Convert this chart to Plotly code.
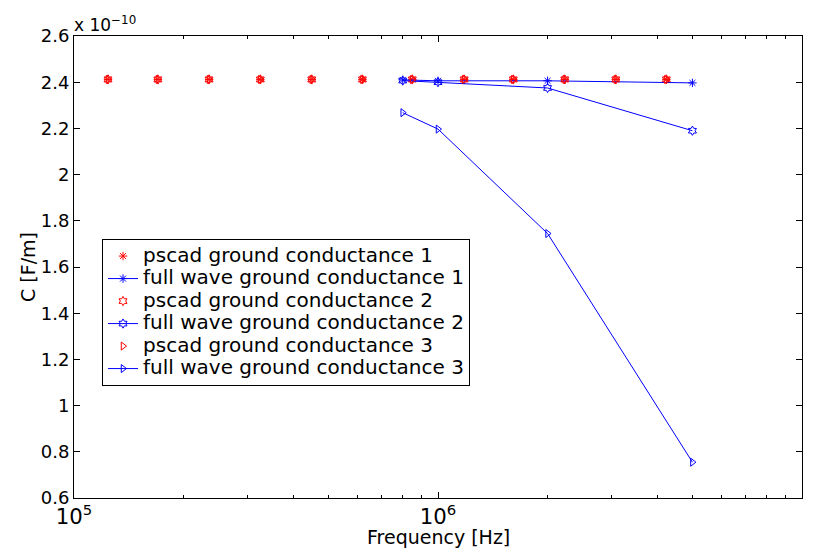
import plotly.graph_objects as go

# Frequencies [Hz]
pscad_freq = [1.24e5, 1.70e5, 2.35e5, 3.25e5, 4.50e5, 6.20e5,
              8.50e5, 1.18e6, 1.61e6, 2.23e6, 3.08e6, 4.24e6]
fw_freq = [8e5, 1e6, 2e6, 5e6]

# Capacitance values in units of 1e-10 F/m
pscad_c1 = [2.412] * 12
pscad_c2 = [2.412] * 12
pscad_c3 = [2.412] * 12
fw_c1 = [2.410, 2.406, 2.406, 2.397]
fw_c2 = [2.407, 2.400, 2.375, 2.190]
fw_c3 = [2.268, 2.197, 1.745, 0.755]

y_ticks = [0.6, 0.8, 1.0, 1.2, 1.4, 1.6, 1.8, 2.0, 2.2, 2.4, 2.6]
y_tick_labels = ["0.6", "0.8", "1", "1.2", "1.4", "1.6", "1.8", "2", "2.2", "2.4", "2.6"]

RED = "#ff0000"
BLUE = "#0000ff"
MS = 7
LEG_TXT = 20

fig = go.Figure()
series = [
    ("pscad ground conductance 1", pscad_freq, pscad_c1, RED, "asterisk-open", "markers"),
    ("full wave ground conductance 1", fw_freq, fw_c1, BLUE, "asterisk-open", "lines+markers"),
    ("pscad ground conductance 2", pscad_freq, pscad_c2, RED, "hexagram-open", "markers"),
    ("full wave ground conductance 2", fw_freq, fw_c2, BLUE, "hexagram-open", "lines+markers"),
    ("pscad ground conductance 3", pscad_freq, pscad_c3, RED, "triangle-right-open", "markers"),
    ("full wave ground conductance 3", fw_freq, fw_c3, BLUE, "triangle-right-open", "lines+markers"),
]
for name, x, y, col, sym, mode in series:
    fig.add_trace(go.Scatter(
        x=x, y=y, mode=mode,
        name=f'<span style="font-size:{LEG_TXT}px">{name}</span>',
        line=dict(color=col, width=1),
        marker=dict(symbol=sym, size=MS, color=col, line=dict(color=col, width=1)),
    ))

font_family = "DejaVu Sans, Liberation Sans, Arial, sans-serif"
fig.update_layout(
    width=810, height=542,
    margin=dict(l=66, r=16, t=28, b=52),
    paper_bgcolor="white", plot_bgcolor="white",
    font=dict(family=font_family, size=18, color="black"),
    showlegend=True,
    legend=dict(
        x=0.0385, y=0.561, xanchor="left", yanchor="top",
        bgcolor="white", bordercolor="black", borderwidth=1,
        font=dict(size=15, family=font_family),
        tracegroupgap=0, itemwidth=30,
    ),
    xaxis=dict(
        type="log", range=[5, 7], dtick=1, exponentformat="power",
        showgrid=False, zeroline=False,
        showline=True, linecolor="black", linewidth=1, mirror="ticks",
        ticks="inside", ticklen=6, tickcolor="black",
        tickfont=dict(size=17),
        minor=dict(ticks="inside", ticklen=3, tickcolor="black", showgrid=False),
    ),
    yaxis=dict(
        range=[0.6, 2.6], tickvals=y_ticks, ticktext=y_tick_labels,
        showgrid=False, zeroline=False,
        showline=True, linecolor="black", linewidth=1, mirror="ticks",
        ticks="inside", ticklen=6, tickcolor="black",
        tickfont=dict(size=18),
        title=dict(text="C [F/m]", font=dict(size=19), standoff=0),
    ),
    annotations=[
        dict(
            text="x 10<sup>−10</sup>", xref="paper", yref="paper",
            x=0.0, y=1.0, xanchor="left", yanchor="bottom", showarrow=False,
            font=dict(size=17), yshift=-1, xshift=-2,
        ),
        dict(
            text="Frequency [Hz]", xref="paper", yref="paper",
            x=0.5, y=0.0, xanchor="center", yanchor="top", showarrow=False,
            font=dict(size=19), yshift=-26,
        ),
    ],
)

fig.write_html("out.html")
